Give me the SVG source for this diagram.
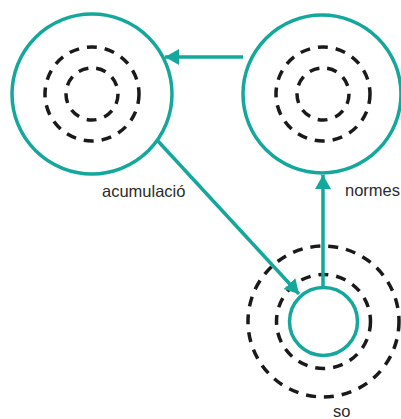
<svg xmlns="http://www.w3.org/2000/svg" width="401" height="419" viewBox="0 0 401 419">
<defs>
<style>
.node{fill:none;stroke:#13a89b;stroke-width:3.5}
.dash{fill:none;stroke:#1a1a1a;stroke-width:3.5;stroke-dasharray:10 8}
.edge{fill:none;stroke:#13a89b;stroke-width:3.5}
.lbl{font-family:"Liberation Sans",Arial,sans-serif;font-size:16.5px;fill:#2b2b2b}
</style>
<marker id="arr" viewBox="0 0 14 16" refX="14" refY="8" markerWidth="14" markerHeight="16" markerUnits="userSpaceOnUse" orient="auto">
<path d="M0,0 L14,8 L0,16 Z" fill="#13a89b"/>
</marker>
</defs>
<g id="acumulacio">
<circle class="node" cx="92" cy="94" r="80"/>
<circle class="dash" cx="92" cy="94" r="47"/>
<circle class="dash" cx="92" cy="94" r="26"/>
<text class="lbl" x="102" y="197">acumulació</text>
</g>
<g id="normes">
<circle class="node" cx="322" cy="94" r="79"/>
<circle class="dash" cx="323" cy="94" r="47"/>
<circle class="dash" cx="323" cy="94" r="26"/>
<text class="lbl" x="345" y="196">normes</text>
</g>
<g id="so">
<circle class="dash" cx="323.5" cy="321.5" r="75.5"/>
<circle class="dash" cx="323.5" cy="321.5" r="47"/>
<circle class="node" cx="323.5" cy="321.5" r="34"/>
<text class="lbl" x="333" y="417">so</text>
</g>
<g id="connectors">
<line class="edge" x1="243" y1="57" x2="165" y2="57" marker-end="url(#arr)"/>
<line class="edge" x1="323" y1="287" x2="323" y2="175" marker-end="url(#arr)"/>
<line class="edge" x1="157" y1="140" x2="299" y2="294" marker-end="url(#arr)"/>
</g>
</svg>
